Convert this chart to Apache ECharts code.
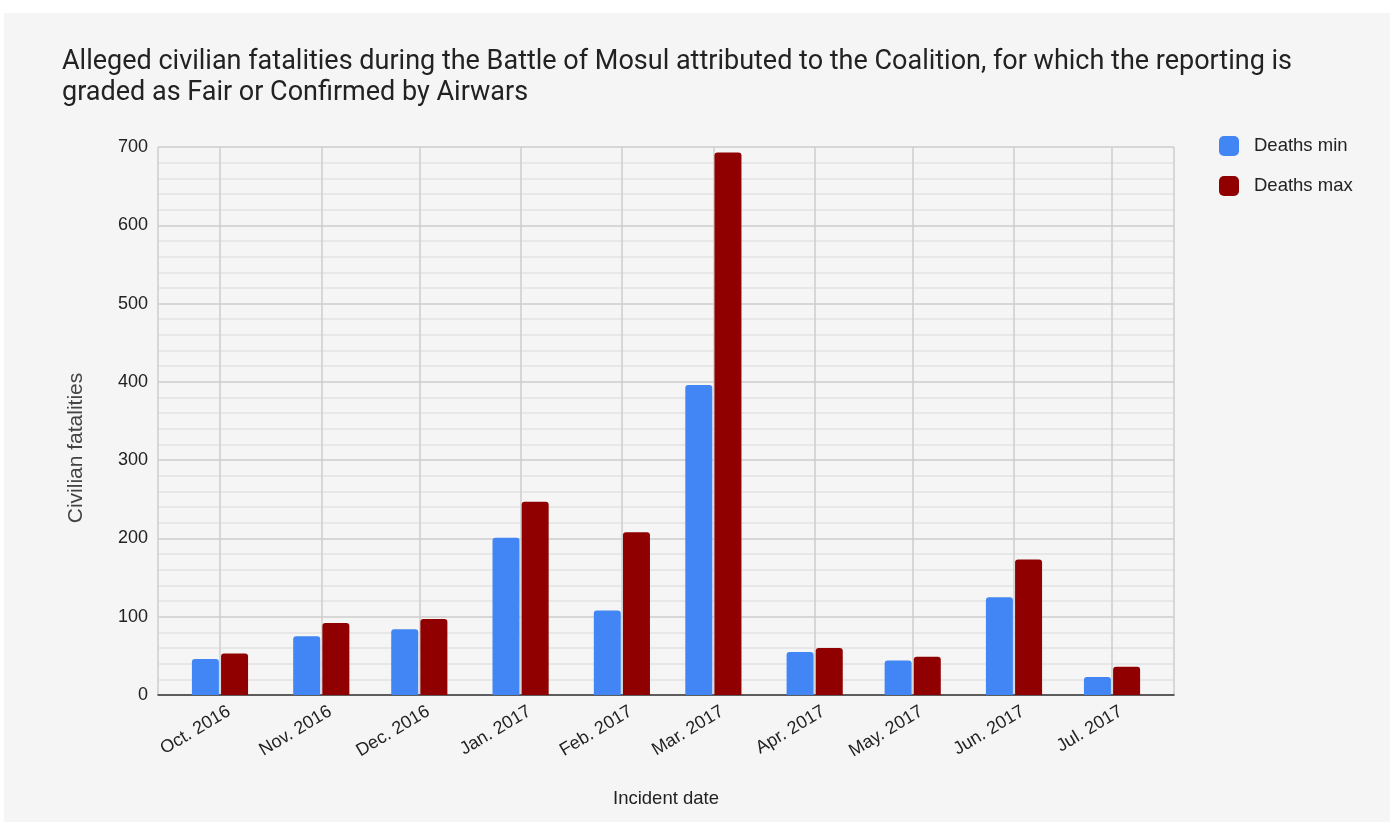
<!DOCTYPE html>
<html>
<head>
<meta charset="utf-8">
<script src="https://cdn.jsdelivr.net/npm/echarts@6/dist/echarts.min.js"></script>
<style>
  html, body { margin: 0; padding: 0; background: #ffffff; }
  #wrap { position: relative; width: 1394px; height: 826px; }
  #bg { position: absolute; left: 4px; top: 13px; width: 1386px; height: 809px; background: #f5f5f5; }
  #chart { position: absolute; left: 0; top: 0; width: 1394px; height: 826px; }
</style>
</head>
<body>
<div id="wrap"><div id="bg"></div><div id="chart"></div></div>
<script>
const titleText = 'Alleged civilian fatalities during the Battle of Mosul attributed to the Coalition, for which the reporting is\ngraded as Fair or Confirmed by Airwars';
const months = ['2016-10-01','2016-11-01','2016-12-01','2017-01-01','2017-02-01','2017-03-01','2017-04-01','2017-05-01','2017-06-01','2017-07-01'];
const monthLabels = ['Oct. 2016','Nov. 2016','Dec. 2016','Jan. 2017','Feb. 2017','Mar. 2017','Apr. 2017','May. 2017','Jun. 2017','Jul. 2017'];
const deathsMin = [46, 75, 84, 201, 108, 396, 55, 44, 125, 23];
const deathsMax = [53, 92, 97, 247, 208, 693, 60, 49, 173, 36];
const yTicks = [0, 100, 200, 300, 400, 500, 600, 700];

const tickTimes = months.map(m => +echarts.time.parse(m));
const labelFor = v => {
  const i = tickTimes.indexOf(+v);
  return i >= 0 ? monthLabels[i] : '';
};
const DAY = 86400000;

const chart = echarts.init(document.getElementById('chart'), null, {renderer: 'canvas'});
chart.setOption({
  backgroundColor: 'transparent',
  animation: false,
  title: {
    text: titleText,
    left: 57, top: 42,
    textStyle: { fontFamily: 'Roboto', fontSize: 27, fontWeight: 'normal', color: '#222222', lineHeight: 31 }
  },
  legend: {
    orient: 'vertical',
    left: 1214, top: 131,
    itemWidth: 20, itemHeight: 20, itemGap: 20,
    icon: 'roundRect',
    textStyle: { fontFamily: 'Liberation Sans', fontSize: 18.5, color: '#222222', padding: [2,0,0,10] },
    data: ['Deaths min', 'Deaths max']
  },
  grid: { left: 158, right: 220, top: 147, bottom: 131, containLabel: false },
  xAxis: {
    type: 'time',
    min: '2016-09-20 15:00:00',
    max: '2017-07-11 09:00:00',
    minInterval: 28 * DAY,
    maxInterval: 31 * DAY,
    name: 'Incident date',
    nameLocation: 'middle',
    nameGap: 94,
    nameTextStyle: { fontFamily: 'Liberation Sans', fontSize: 18.5, color: '#222222' },
    axisLine: { show: true, onZero: true, lineStyle: { color: '#333333', width: 1.5 } },
    axisTick: { show: false },
    splitLine: { show: true, lineStyle: { color: '#cccccc', width: 1.5 } },
    axisLabel: {
      rotate: 31,
      margin: 10,
      verticalAlign: 'top',
      padding: [0, -5, 0, 0],
      showMinLabel: false, showMaxLabel: false,
      hideOverlap: false,
      fontFamily: 'Liberation Sans', fontSize: 18, color: '#222222',
      formatter: labelFor
    }
  },
  yAxis: {
    type: 'value',
    min: 0, max: 700, interval: 100,
    name: 'Civilian fatalities',
    nameLocation: 'middle',
    nameGap: 71,
    nameTextStyle: { fontFamily: 'Liberation Sans', fontSize: 21, color: '#444444', padding: [0, 54, 0, 0] },
    axisLine: { show: false },
    axisTick: { show: false },
    axisLabel: { margin: 10, fontFamily: 'Liberation Sans', fontSize: 18, color: '#222222',
      formatter: v => yTicks.indexOf(v) >= 0 ? String(v) : '' },
    splitLine: { show: true, lineStyle: { color: '#cccccc', width: 1.5 } },
    minorTick: { show: false, splitNumber: 5 },
    minorSplitLine: { show: true, lineStyle: { color: '#e2e2e2', width: 1.5 } }
  },
  series: [
    {
      name: 'Deaths min', type: 'bar',
      data: months.map((m, i) => [m, deathsMin[i]]),
      barWidth: 27, barGap: '8%',
      itemStyle: { color: '#4285f4', borderRadius: [3,3,0,0] }
    },
    {
      name: 'Deaths max', type: 'bar',
      data: months.map((m, i) => [m, deathsMax[i]]),
      barWidth: 27, barGap: '8%',
      itemStyle: { color: '#900000', borderRadius: [3,3,0,0] }
    }
  ]
});
</script>
</body>
</html>
